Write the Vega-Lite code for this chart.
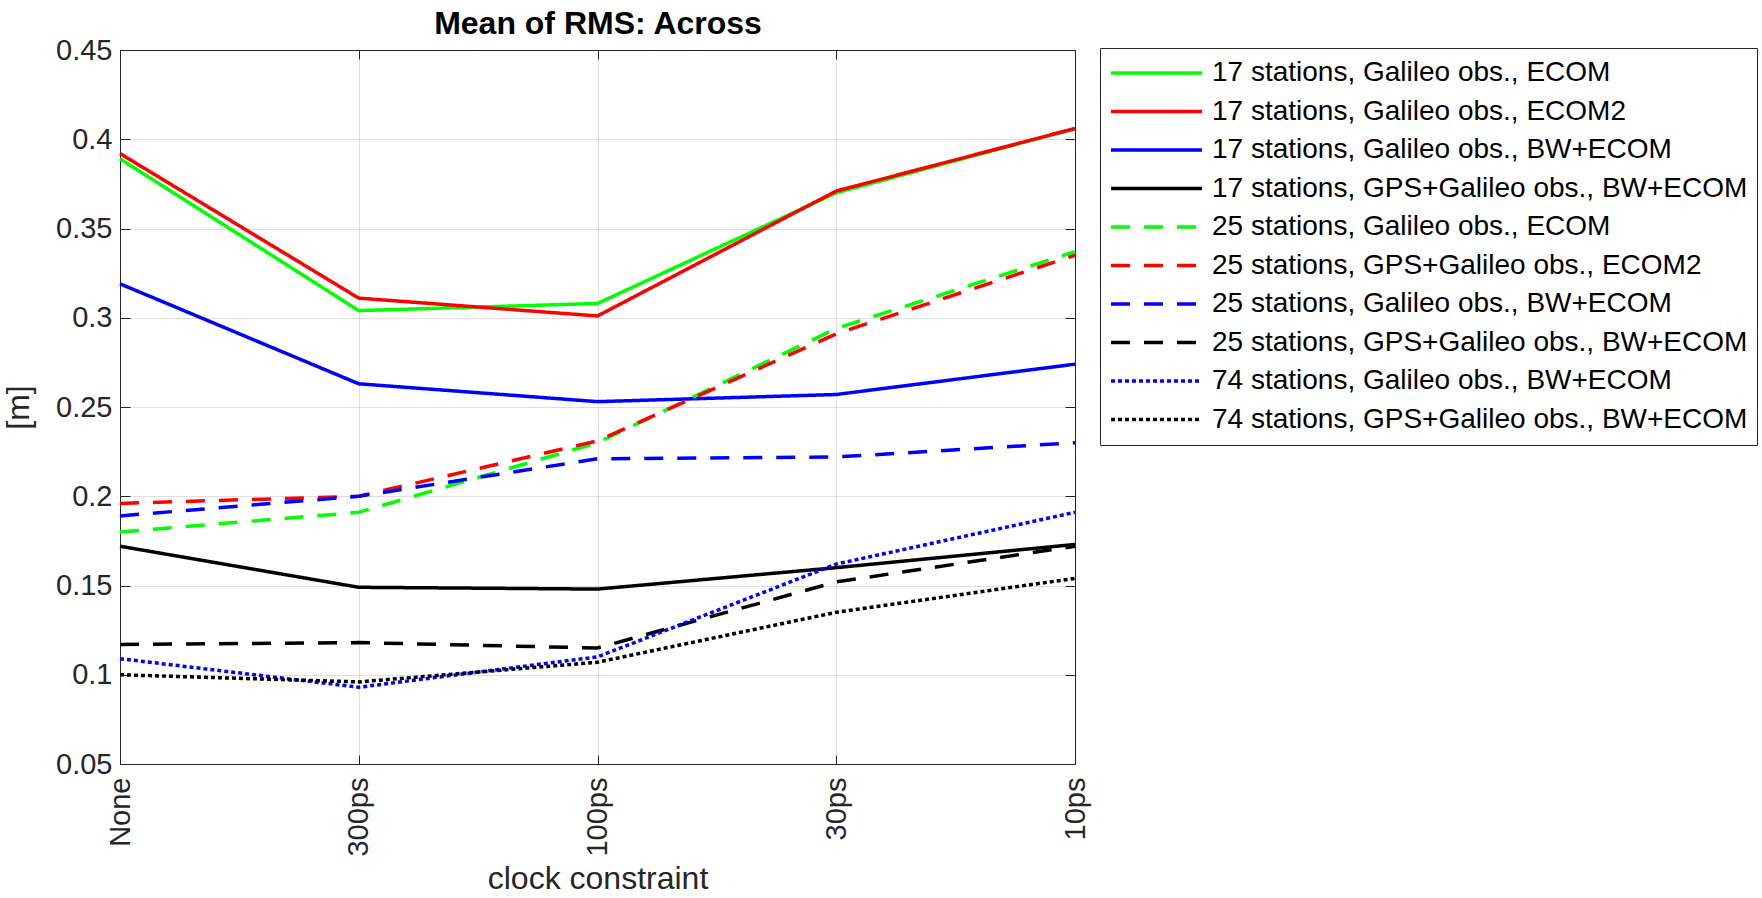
{
  "$schema": "https://vega.github.io/schema/vega-lite/v6.json",
  "autosize": {"type": "none"},
  "width": 955,
  "height": 714,
  "padding": {"left": 120, "top": 50, "right": 687, "bottom": 134},
  "background": "white",
  "config": {
    "view": {"stroke": "#262626", "strokeWidth": 1},
    "axis": {
      "labelFont": "Liberation Sans",
      "titleFont": "Liberation Sans",
      "labelFontSize": 29,
      "titleFontSize": 32,
      "titleFontWeight": "normal",
      "labelColor": "#262626",
      "titleColor": "#262626",
      "domainColor": "#262626",
      "tickColor": "#262626",
      "gridColor": "#262626",
      "gridOpacity": 0.15,
      "gridWidth": 1
    }
  },
  "data": {
    "values": [
      {"series": "17 stations, Galileo obs., ECOM", "constraint": "None", "step": 1, "value": 0.389},
      {"series": "17 stations, Galileo obs., ECOM", "constraint": "300ps", "step": 2, "value": 0.304},
      {"series": "17 stations, Galileo obs., ECOM", "constraint": "100ps", "step": 3, "value": 0.308},
      {"series": "17 stations, Galileo obs., ECOM", "constraint": "30ps", "step": 4, "value": 0.370},
      {"series": "17 stations, Galileo obs., ECOM", "constraint": "10ps", "step": 5, "value": 0.406},
      {"series": "17 stations, Galileo obs., ECOM2", "constraint": "None", "step": 1, "value": 0.392},
      {"series": "17 stations, Galileo obs., ECOM2", "constraint": "300ps", "step": 2, "value": 0.311},
      {"series": "17 stations, Galileo obs., ECOM2", "constraint": "100ps", "step": 3, "value": 0.301},
      {"series": "17 stations, Galileo obs., ECOM2", "constraint": "30ps", "step": 4, "value": 0.371},
      {"series": "17 stations, Galileo obs., ECOM2", "constraint": "10ps", "step": 5, "value": 0.406},
      {"series": "17 stations, Galileo obs., BW+ECOM", "constraint": "None", "step": 1, "value": 0.319},
      {"series": "17 stations, Galileo obs., BW+ECOM", "constraint": "300ps", "step": 2, "value": 0.263},
      {"series": "17 stations, Galileo obs., BW+ECOM", "constraint": "100ps", "step": 3, "value": 0.253},
      {"series": "17 stations, Galileo obs., BW+ECOM", "constraint": "30ps", "step": 4, "value": 0.257},
      {"series": "17 stations, Galileo obs., BW+ECOM", "constraint": "10ps", "step": 5, "value": 0.274},
      {"series": "17 stations, GPS+Galileo obs., BW+ECOM", "constraint": "None", "step": 1, "value": 0.172},
      {"series": "17 stations, GPS+Galileo obs., BW+ECOM", "constraint": "300ps", "step": 2, "value": 0.149},
      {"series": "17 stations, GPS+Galileo obs., BW+ECOM", "constraint": "100ps", "step": 3, "value": 0.148},
      {"series": "17 stations, GPS+Galileo obs., BW+ECOM", "constraint": "30ps", "step": 4, "value": 0.160},
      {"series": "17 stations, GPS+Galileo obs., BW+ECOM", "constraint": "10ps", "step": 5, "value": 0.173},
      {"series": "25 stations, Galileo obs., ECOM", "constraint": "None", "step": 1, "value": 0.180},
      {"series": "25 stations, Galileo obs., ECOM", "constraint": "300ps", "step": 2, "value": 0.191},
      {"series": "25 stations, Galileo obs., ECOM", "constraint": "100ps", "step": 3, "value": 0.230},
      {"series": "25 stations, Galileo obs., ECOM", "constraint": "30ps", "step": 4, "value": 0.294},
      {"series": "25 stations, Galileo obs., ECOM", "constraint": "10ps", "step": 5, "value": 0.337},
      {"series": "25 stations, GPS+Galileo obs., ECOM2", "constraint": "None", "step": 1, "value": 0.196},
      {"series": "25 stations, GPS+Galileo obs., ECOM2", "constraint": "300ps", "step": 2, "value": 0.200},
      {"series": "25 stations, GPS+Galileo obs., ECOM2", "constraint": "100ps", "step": 3, "value": 0.231},
      {"series": "25 stations, GPS+Galileo obs., ECOM2", "constraint": "30ps", "step": 4, "value": 0.291},
      {"series": "25 stations, GPS+Galileo obs., ECOM2", "constraint": "10ps", "step": 5, "value": 0.335},
      {"series": "25 stations, Galileo obs., BW+ECOM", "constraint": "None", "step": 1, "value": 0.189},
      {"series": "25 stations, Galileo obs., BW+ECOM", "constraint": "300ps", "step": 2, "value": 0.200},
      {"series": "25 stations, Galileo obs., BW+ECOM", "constraint": "100ps", "step": 3, "value": 0.221},
      {"series": "25 stations, Galileo obs., BW+ECOM", "constraint": "30ps", "step": 4, "value": 0.222},
      {"series": "25 stations, Galileo obs., BW+ECOM", "constraint": "10ps", "step": 5, "value": 0.230},
      {"series": "25 stations, GPS+Galileo obs., BW+ECOM", "constraint": "None", "step": 1, "value": 0.117},
      {"series": "25 stations, GPS+Galileo obs., BW+ECOM", "constraint": "300ps", "step": 2, "value": 0.118},
      {"series": "25 stations, GPS+Galileo obs., BW+ECOM", "constraint": "100ps", "step": 3, "value": 0.115},
      {"series": "25 stations, GPS+Galileo obs., BW+ECOM", "constraint": "30ps", "step": 4, "value": 0.152},
      {"series": "25 stations, GPS+Galileo obs., BW+ECOM", "constraint": "10ps", "step": 5, "value": 0.172},
      {"series": "74 stations, Galileo obs., BW+ECOM", "constraint": "None", "step": 1, "value": 0.109},
      {"series": "74 stations, Galileo obs., BW+ECOM", "constraint": "300ps", "step": 2, "value": 0.093},
      {"series": "74 stations, Galileo obs., BW+ECOM", "constraint": "100ps", "step": 3, "value": 0.110},
      {"series": "74 stations, Galileo obs., BW+ECOM", "constraint": "30ps", "step": 4, "value": 0.162},
      {"series": "74 stations, Galileo obs., BW+ECOM", "constraint": "10ps", "step": 5, "value": 0.191},
      {"series": "74 stations, GPS+Galileo obs., BW+ECOM", "constraint": "None", "step": 1, "value": 0.100},
      {"series": "74 stations, GPS+Galileo obs., BW+ECOM", "constraint": "300ps", "step": 2, "value": 0.096},
      {"series": "74 stations, GPS+Galileo obs., BW+ECOM", "constraint": "100ps", "step": 3, "value": 0.107},
      {"series": "74 stations, GPS+Galileo obs., BW+ECOM", "constraint": "30ps", "step": 4, "value": 0.135},
      {"series": "74 stations, GPS+Galileo obs., BW+ECOM", "constraint": "10ps", "step": 5, "value": 0.154}
    ]
  },
  "layer": [
    {
      "mark": {"type": "line", "strokeWidth": 3.5, "strokeCap": "butt", "strokeJoin": "miter"},
      "encoding": {
        "x": {
          "field": "constraint",
          "type": "ordinal",
          "sort": ["None", "300ps", "100ps", "30ps", "10ps"],
          "scale": {"type": "point", "padding": 0},
          "axis": {
            "title": "clock constraint",
            "orient": "bottom",
            "labelAngle": 270,
            "labelAlign": "right",
            "labelBaseline": "middle",
            "labelPadding": 22,
            "tickSize": -9,
            "grid": true,
            "titlePadding": 7,
            "domain": true
          }
        },
        "y": {
          "field": "value",
          "type": "quantitative",
          "scale": {"domain": [0.05, 0.45], "nice": false, "zero": false},
          "axis": {
            "title": "[m]",
            "orient": "left",
            "values": [0.05, 0.1, 0.15, 0.2, 0.25, 0.3, 0.35, 0.4, 0.45],
            "format": ".2~f",
            "labelPadding": 18,
            "tickSize": -10,
            "grid": true,
            "titlePadding": 20
          }
        },
        "order": {"field": "step", "type": "quantitative"},
        "color": {
          "field": "series",
          "type": "nominal",
          "scale": {
            "domain": [
              "17 stations, Galileo obs., ECOM",
              "17 stations, Galileo obs., ECOM2",
              "17 stations, Galileo obs., BW+ECOM",
              "17 stations, GPS+Galileo obs., BW+ECOM",
              "25 stations, Galileo obs., ECOM",
              "25 stations, GPS+Galileo obs., ECOM2",
              "25 stations, Galileo obs., BW+ECOM",
              "25 stations, GPS+Galileo obs., BW+ECOM",
              "74 stations, Galileo obs., BW+ECOM",
              "74 stations, GPS+Galileo obs., BW+ECOM"
            ],
            "range": ["#00ff00", "#ff0000", "#0000ff", "#000000", "#00ff00", "#ff0000", "#0000ff", "#000000", "#0000ff", "#000000"]
          },
          "legend": {
            "title": null,
            "orient": "none",
            "legendX": 980,
            "legendY": -2,
            "symbolType": "stroke",
            "symbolSize": 8281,
            "symbolStrokeWidth": 3.3,
            "labelFont": "Liberation Sans",
            "labelFontSize": 28,
            "labelColor": "#000000",
            "labelLimit": 0,
            "labelOffset": 8,
            "clipHeight": 32,
            "rowPadding": 6.5,
            "padding": 9,
            "strokeColor": "#262626",
            "fillColor": "white"
          }
        },
        "strokeDash": {
          "field": "series",
          "type": "nominal",
          "scale": {
            "domain": [
              "17 stations, Galileo obs., ECOM",
              "17 stations, Galileo obs., ECOM2",
              "17 stations, Galileo obs., BW+ECOM",
              "17 stations, GPS+Galileo obs., BW+ECOM",
              "25 stations, Galileo obs., ECOM",
              "25 stations, GPS+Galileo obs., ECOM2",
              "25 stations, Galileo obs., BW+ECOM",
              "25 stations, GPS+Galileo obs., BW+ECOM",
              "74 stations, Galileo obs., BW+ECOM",
              "74 stations, GPS+Galileo obs., BW+ECOM"
            ],
            "range": [[1, 0], [1, 0], [1, 0], [1, 0], [19, 14], [19, 14], [19, 14], [19, 14], [4, 3], [4, 3]]
          },
          "legend": {
            "title": null,
            "orient": "none",
            "legendX": 980,
            "legendY": -2,
            "symbolType": "stroke",
            "symbolSize": 8281,
            "symbolStrokeWidth": 3.3,
            "labelFont": "Liberation Sans",
            "labelFontSize": 28,
            "labelColor": "#000000",
            "labelLimit": 0,
            "labelOffset": 8,
            "clipHeight": 32,
            "rowPadding": 6.5,
            "padding": 9,
            "strokeColor": "#262626",
            "fillColor": "white"
          }
        }
      }
    },
    {
      "mark": {"type": "point", "opacity": 0},
      "encoding": {
        "x": {
          "field": "constraint",
          "type": "ordinal",
          "sort": ["None", "300ps", "100ps", "30ps", "10ps"],
          "axis": {
            "orient": "top",
            "labels": false,
            "title": "Mean of RMS: Across",
            "titleFontWeight": "bold",
            "titleFontSize": 32,
            "titleColor": "#000000",
            "titlePadding": 9,
            "tickSize": -9,
            "grid": false,
            "domain": false
          }
        },
        "y": {
          "field": "value",
          "type": "quantitative",
          "axis": {"orient": "right", "labels": false, "title": null, "tickSize": -10, "grid": false, "domain": false, "values": [0.05, 0.1, 0.15, 0.2, 0.25, 0.3, 0.35, 0.4, 0.45]}
        }
      }
    }
  ],
  "resolve": {"axis": {"x": "independent", "y": "independent"}}
}
